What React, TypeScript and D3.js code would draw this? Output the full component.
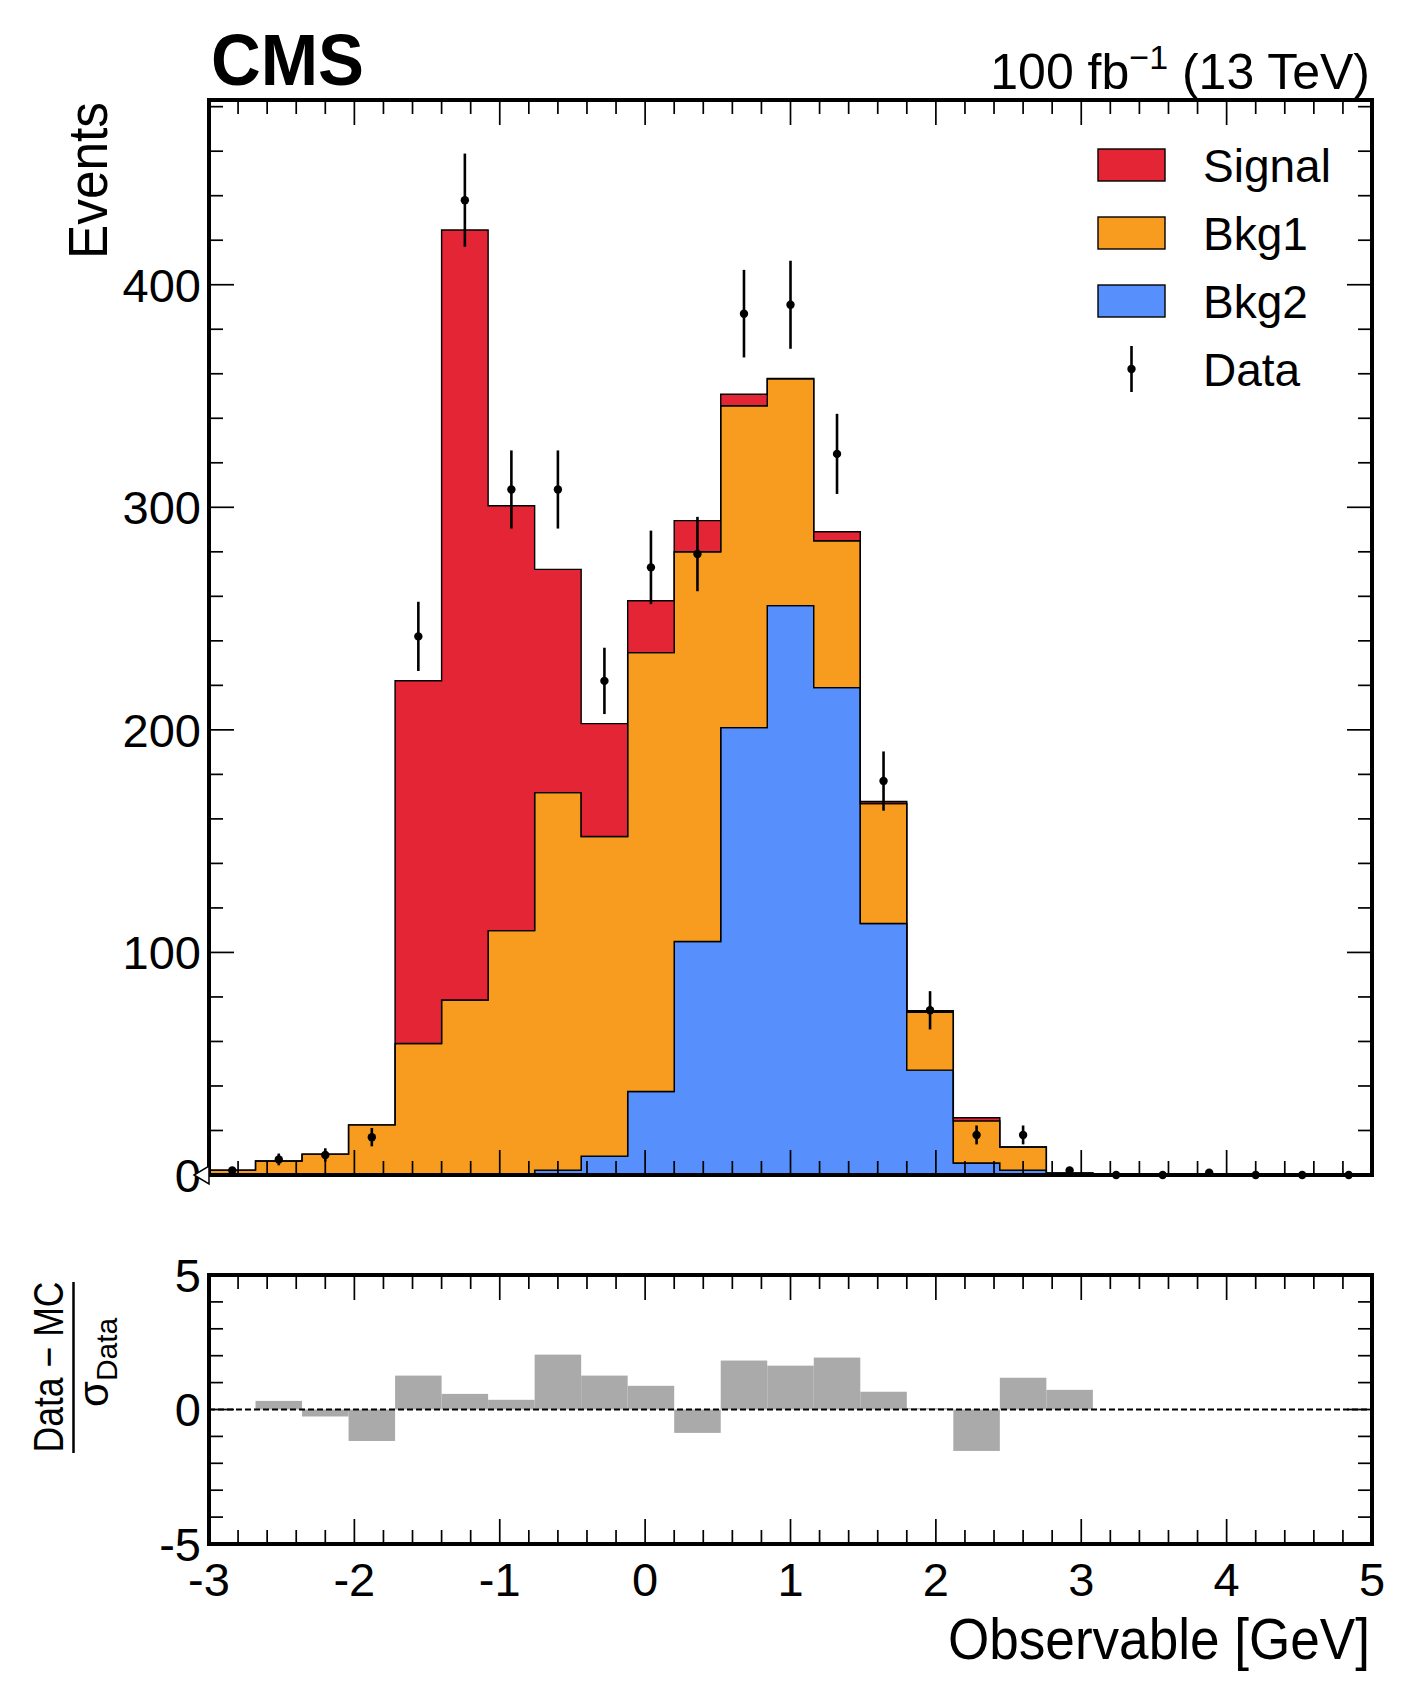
import React, { useEffect } from 'react';
import * as d3 from 'd3';

// ---------- data ----------
const X_MIN = -3;
const X_MAX = 5;
const N_BINS = 25;
const binEdges = d3.range(N_BINS + 1).map((i) => X_MIN + (i * (X_MAX - X_MIN)) / N_BINS);

const bkg2 = [0, 0, 0, 0, 0, 0, 0, 2.2, 8.5, 37.5, 104.9, 201, 255.8, 219, 113, 47.1, 5.4, 2.2, 0, 0, 0, 0, 0, 0, 0];
const bkg1 = [2.2, 6.3, 9.4, 22.5, 59.1, 78.6, 109.8, 169.6, 143.6, 197.2, 175.1, 144.6, 101.9, 66, 53.9, 26, 18.9, 10.4, 0.9, 0, 0, 0, 0, 0, 0];
const signal = [0, 0, 0, 0, 163, 346, 190.9, 100.3, 50.7, 23.3, 14, 5.2, 0.2, 4, 0.9, 0.7, 1.4, 0, 0.07, 0, 0, 0, 0, 0, 0];
const dataCounts = [2, 7, 9, 17, 242, 438, 308, 308, 222, 273, 279, 387, 391, 324, 177, 74, 18, 18, 2, 0, 0, 1, 0, 0, 0];
const pulls: (number | null)[] = [0, 0.32, -0.26, -1.17, 1.26, 0.58, 0.36, 2.04, 1.26, 0.88, -0.87, 1.82, 1.63, 1.93, 0.66, 0.05, -1.54, 1.18, 0.73, null, null, null, null, null, null];

const mainYTicks = [0, 100, 200, 300, 400];
const ratioYTicks = [-5, 0, 5];
const xTicks = [-3, -2, -1, 0, 1, 2, 3, 4, 5];

const seriesKeys = ['bkg2', 'bkg1', 'signal'];
const seriesColors: Record<string, string> = { bkg2: '#5790fc', bkg1: '#f89c20', signal: '#e42536' };
const legendLabels = ['Signal', 'Bkg1', 'Bkg2', 'Data'];
const legendColors = ['#e42536', '#f89c20', '#5790fc', null];

// ---------- layout ----------
const W = 1413;
const H = 1694;
const L = 209;
const R = 1372;
const mainTop = 100;
const mainBot = 1175;
const ratTop = 1275;
const ratBot = 1544;
const FONT = "'Liberation Sans', Arial, Helvetica, sans-serif";
const MAJ = 25;
const MIN = 14;

export default function App() {
  useEffect(() => {
    document.body.style.margin = '0';
    document.body.style.overflow = 'hidden';
  }, []);

  const x = d3.scaleLinear().domain([X_MIN, X_MAX]).range([L, R]);
  const y = d3.scaleLinear().domain([0, 483]).range([mainBot, mainTop]);
  const yr = d3.scaleLinear().domain([-5, 5]).range([ratBot, ratTop]);

  const rows = d3.range(N_BINS).map((i) => ({ bkg2: bkg2[i], bkg1: bkg1[i], signal: signal[i] }));
  const stacked = d3.stack<any>().keys(seriesKeys)(rows);

  const area = d3
    .area<[number, number]>()
    .x((_, i) => x(binEdges[i]))
    .y0((d) => y(d[0]))
    .y1((d) => y(d[1]))
    .curve(d3.curveStepAfter);

  const xMinor = d3.range(X_MIN, X_MAX + 1e-6, 0.2).filter((v) => Math.abs(v - Math.round(v)) > 1e-6);
  const yMinorMain = d3.range(0, 483, 20).filter((v) => v % 100 !== 0);
  const yMinorRatio = d3.range(-5, 5.0001, 1).filter((v) => v % 5 !== 0);

  const xTickLines = (top: number, bot: number, key: string) => (
    <g key={key} stroke="#000" strokeWidth={1.7}>
      {xTicks.map((t) => (
        <g key={'M' + t}>
          <line x1={x(t)} x2={x(t)} y1={bot} y2={bot - MAJ} />
          <line x1={x(t)} x2={x(t)} y1={top} y2={top + MAJ} />
        </g>
      ))}
      {xMinor.map((t) => (
        <g key={'m' + t.toFixed(2)}>
          <line x1={x(t)} x2={x(t)} y1={bot} y2={bot - MIN} />
          <line x1={x(t)} x2={x(t)} y1={top} y2={top + MIN} />
        </g>
      ))}
    </g>
  );

  const yTickLines = (scale: (v: number) => number, majors: number[], minors: number[], key: string) => (
    <g key={key} stroke="#000" strokeWidth={1.7}>
      {majors.map((t) => (
        <g key={'M' + t}>
          <line x1={L} x2={L + MAJ} y1={scale(t)} y2={scale(t)} />
          <line x1={R} x2={R - MAJ} y1={scale(t)} y2={scale(t)} />
        </g>
      ))}
      {minors.map((t) => (
        <g key={'m' + t}>
          <line x1={L} x2={L + MIN} y1={scale(t)} y2={scale(t)} />
          <line x1={R} x2={R - MIN} y1={scale(t)} y2={scale(t)} />
        </g>
      ))}
    </g>
  );

  const legendRowY = [165, 233, 301, 369];

  return (
    <svg width={W} height={H} style={{ position: 'absolute', left: 0, top: 0, background: '#fff' }} fontFamily={FONT}>
      <rect x={0} y={0} width={W} height={H} fill="#fff" />

      {/* stacked histograms */}
      {stacked.map((s) => {
        const pts: [number, number][] = s.map((d) => [d[0], d[1]] as [number, number]);
        pts.push(pts[pts.length - 1]);
        return (
          <path
            key={s.key}
            d={area(pts) || ''}
            fill={seriesColors[s.key]}
            stroke="#000"
            strokeWidth={1.4}
            strokeLinejoin="miter"
          />
        );
      })}

      {/* data points */}
      <g>
        {dataCounts.map((n, i) => {
          const cx = x((binEdges[i] + binEdges[i + 1]) / 2);
          const err = Math.sqrt(n);
          return (
            <g key={i}>
              {n > 0 && <line x1={cx} x2={cx} y1={y(n - err)} y2={y(n + err)} stroke="#000" strokeWidth={2.6} />}
              <circle cx={cx} cy={y(n)} r={4.2} fill="#000" />
            </g>
          );
        })}
      </g>

      {/* main frame & ticks */}
      {xTickLines(mainTop, mainBot, 'xtm')}
      {yTickLines(y, mainYTicks, yMinorMain, 'ytm')}
      <rect x={L} y={mainTop} width={R - L} height={mainBot - mainTop} fill="none" stroke="#000" strokeWidth={4} />

      {/* main y labels */}
      <g fontSize={47} textAnchor="end">
        {mainYTicks.map((t) => (
          <text key={t} x={201} y={y(t)} dy="0.36em">
            {t}
          </text>
        ))}
      </g>
      <polygon points={`${L},${mainBot - 9} ${L},${mainBot + 9} ${L - 15},${mainBot}`} fill="#fff" stroke="#000" strokeWidth={1.5} />

      {/* legend */}
      {legendLabels.map((lab, i) => (
        <g key={lab}>
          {legendColors[i] ? (
            <rect x={1098} y={legendRowY[i] - 16} width={67} height={32} fill={legendColors[i] as string} stroke="#000" strokeWidth={1.4} />
          ) : (
            <g>
              <line x1={1131.5} x2={1131.5} y1={legendRowY[i] - 23} y2={legendRowY[i] + 23} stroke="#000" strokeWidth={2.6} />
              <circle cx={1131.5} cy={legendRowY[i]} r={4.2} fill="#000" />
            </g>
          )}
          <text x={1203} y={legendRowY[i]} dy="0.36em" fontSize={46}>
            {lab}
          </text>
        </g>
      ))}

      {/* CMS label and lumi */}
      <text x={211} y={85} fontSize={73} fontWeight="bold" textLength={153} lengthAdjust="spacingAndGlyphs">
        CMS
      </text>
      <text x={1370} y={89} fontSize={50} textAnchor="end">
        <tspan>100 fb</tspan>
        <tspan fontSize={34} dy={-20}>−1</tspan>
        <tspan dy={20}> (13 TeV)</tspan>
      </text>

      {/* Events label */}
      <text
        transform={`translate(107,102) rotate(-90)`}
        textAnchor="end"
        fontSize={56}
        textLength={157}
        lengthAdjust="spacingAndGlyphs"
      >
        Events
      </text>

      {/* ratio panel */}
      <g>
        {pulls.map((p, i) =>
          p === null || p === 0 ? null : (
            <rect
              key={i}
              x={x(binEdges[i])}
              width={x(binEdges[i + 1]) - x(binEdges[i])}
              y={Math.min(yr(p), yr(0))}
              height={Math.abs(yr(p) - yr(0))}
              fill="#aaaaaa"
            />
          )
        )}
      </g>
      <line x1={L} x2={R} y1={yr(0)} y2={yr(0)} stroke="#000" strokeWidth={1.8} strokeDasharray="6,3" />
      {xTickLines(ratTop, ratBot, 'xtr')}
      {yTickLines(yr, ratioYTicks, yMinorRatio, 'ytr')}
      <rect x={L} y={ratTop} width={R - L} height={ratBot - ratTop} fill="none" stroke="#000" strokeWidth={4} />

      <g fontSize={47} textAnchor="end">
        {ratioYTicks.map((t) => (
          <text key={t} x={201} y={yr(t)} dy="0.36em">
            {t}
          </text>
        ))}
      </g>

      {/* x tick labels */}
      <g fontSize={47} textAnchor="middle">
        {xTicks.map((t) => (
          <text key={t} x={x(t)} y={1596}>
            {t}
          </text>
        ))}
      </g>

      {/* x title */}
      <text x={1370} y={1659} fontSize={57} textAnchor="end" textLength={422} lengthAdjust="spacingAndGlyphs">
        Observable [GeV]
      </text>

      {/* ratio y title */}
      <text
        transform={`translate(63,1367) rotate(-90)`}
        textAnchor="middle"
        fontSize={42}
        textLength={171}
        lengthAdjust="spacingAndGlyphs"
      >
        Data − MC
      </text>
      <line x1={73.5} x2={73.5} y1={1282} y2={1453} stroke="#000" strokeWidth={2.5} />
      <text transform={`translate(108,1407) rotate(-90)`} textAnchor="start" fontSize={42}>
        <tspan>σ</tspan>
        <tspan fontSize={30} dy={9}>Data</tspan>
      </text>
    </svg>
  );
}
